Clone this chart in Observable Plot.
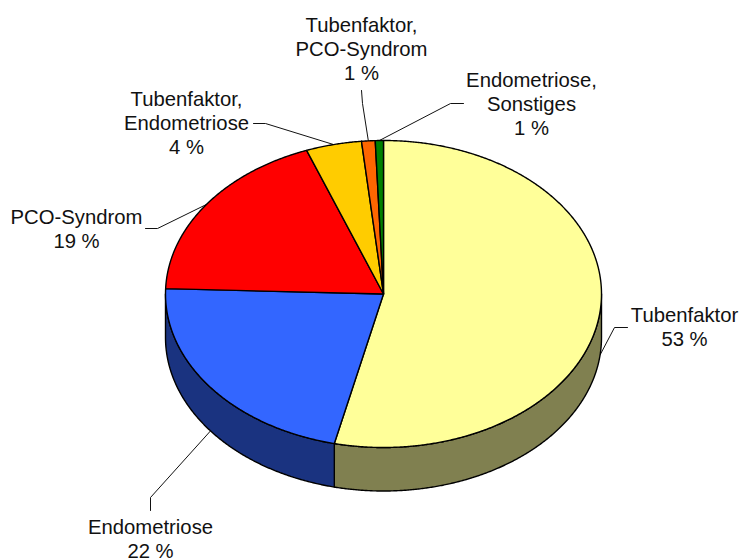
<!DOCTYPE html>
<html>
<head>
<meta charset="utf-8">
<style>html,body{margin:0;padding:0;background:#fff}svg{display:block}</style>
<script src="https://cdn.jsdelivr.net/npm/d3@7"></script>
<script src="https://cdn.jsdelivr.net/npm/@observablehq/plot@0.6"></script>
</head>
<body>
<div id="chart"></div>
<script>
// Data
const categories = ["Tubenfaktor", "Endometriose", "PCO-Syndrom", "Tubenfaktor,\nEndometriose", "Tubenfaktor,\nPCO-Syndrom", "Endometriose,\nSonstiges"];
const values = [53.3, 21.8, 18.6, 4.1, 1.0, 0.6];
const topColors = ["#FFFF99", "#3366FF", "#FF0000", "#FFCC00", "#FF6600", "#008000"];
const wallColors = ["#808050", "#1A3380", "#800000", "#806600", "#803300", "#004000"];

// Pie projection (pixel-unit scales below)
const pie3d = {cx: 383, cy: 293.5, rx: 218, ry: 153.5, depth: 43.5};
// Label layout: label block centre, then the leader's elbow and end
const labelLayout = [
  {x: 684, y: 325.5, elbow: [614, 327], end: [627, 327]},
  {x: 150, y: 538, elbow: [150, 497], end: [150, 510]},
  {x: 76, y: 228, elbow: [157, 228], end: [145, 228]},
  {x: 186, y: 122, elbow: [265, 123], end: [253, 123]},
  {x: 361, y: 48, elbow: [362, 103], end: [361, 90]},
  {x: 531, y: 103, elbow: [450, 103], end: [463, 103]}
];

const total = d3.sum(values);
const tau = 2 * Math.PI;
const px = (a, drop = 0) => ({
  x: pie3d.cx + pie3d.rx * Math.sin(a),
  y: pie3d.cy - pie3d.ry * Math.cos(a) + drop
});
const arcPts = (a0, a1, drop = 0) => {
  const n = Math.max(2, Math.ceil(Math.abs(a1 - a0) / 0.006));
  return d3.range(n + 1).map(i => px(a0 + (a1 - a0) * i / n, drop));
};

let acc = 0;
const slices = values.map((v, i) => {
  const a0 = acc / total * tau;
  acc += v;
  return {i, a0, a1: acc / total * tau, mid: (acc - v / 2) / total * tau};
});

const topPts = slices.flatMap(s =>
  [{x: pie3d.cx, y: pie3d.cy}, ...arcPts(s.a0, s.a1), {x: pie3d.cx, y: pie3d.cy}]
    .map(p => ({...p, id: s.i, fill: topColors[s.i]})));

const wallPts = slices.flatMap(s => {
  const lo = Math.max(s.a0, tau / 4), hi = Math.min(s.a1, 3 * tau / 4);
  if (hi <= lo) return [];
  const upper = arcPts(lo, hi), lower = arcPts(hi, lo, pie3d.depth);
  return [...upper, ...lower, upper[0]].map(p => ({...p, id: s.i, fill: wallColors[s.i]}));
});

const leaderPts = slices.flatMap(s => {
  const front = Math.cos(s.mid) < 0;
  const l = labelLayout[s.i];
  return [px(s.mid, front ? pie3d.depth : 0), {x: l.elbow[0], y: l.elbow[1]}, {x: l.end[0], y: l.end[1]}]
    .map(p => ({...p, id: s.i}));
});

const labels = slices.map(s => ({
  x: labelLayout[s.i].x,
  y: labelLayout[s.i].y,
  text: `${categories[s.i]}\n${Math.round(values[s.i])} %`
}));

const chart = Plot.plot({
  width: 741,
  height: 559,
  margin: 0,
  style: {background: "#fff", overflow: "visible"},
  x: {type: "linear", domain: [0, 741], range: [0, 741], axis: null},
  y: {type: "linear", domain: [0, 559], range: [0, 559], axis: null},
  color: {type: "identity"},
  marks: [
    Plot.line(leaderPts, {x: "x", y: "y", z: "id", stroke: "#111", strokeWidth: 1, curve: "linear"}),
    Plot.line(wallPts, {x: "x", y: "y", z: "id", fill: "fill", stroke: "#000", strokeWidth: 1.4, curve: "linear"}),
    Plot.line(topPts, {x: "x", y: "y", z: "id", fill: "fill", stroke: "#000", strokeWidth: 1.4, curve: "linear"}),
    Plot.text(labels, {
      x: "x", y: "y", text: "text",
      fontFamily: "Liberation Sans", fontSize: 20.3, lineHeight: 1.185,
      textAnchor: "middle", lineAnchor: "middle", fill: "#111"
    })
  ]
});
document.getElementById("chart").append(chart);
</script>
</body>
</html>
